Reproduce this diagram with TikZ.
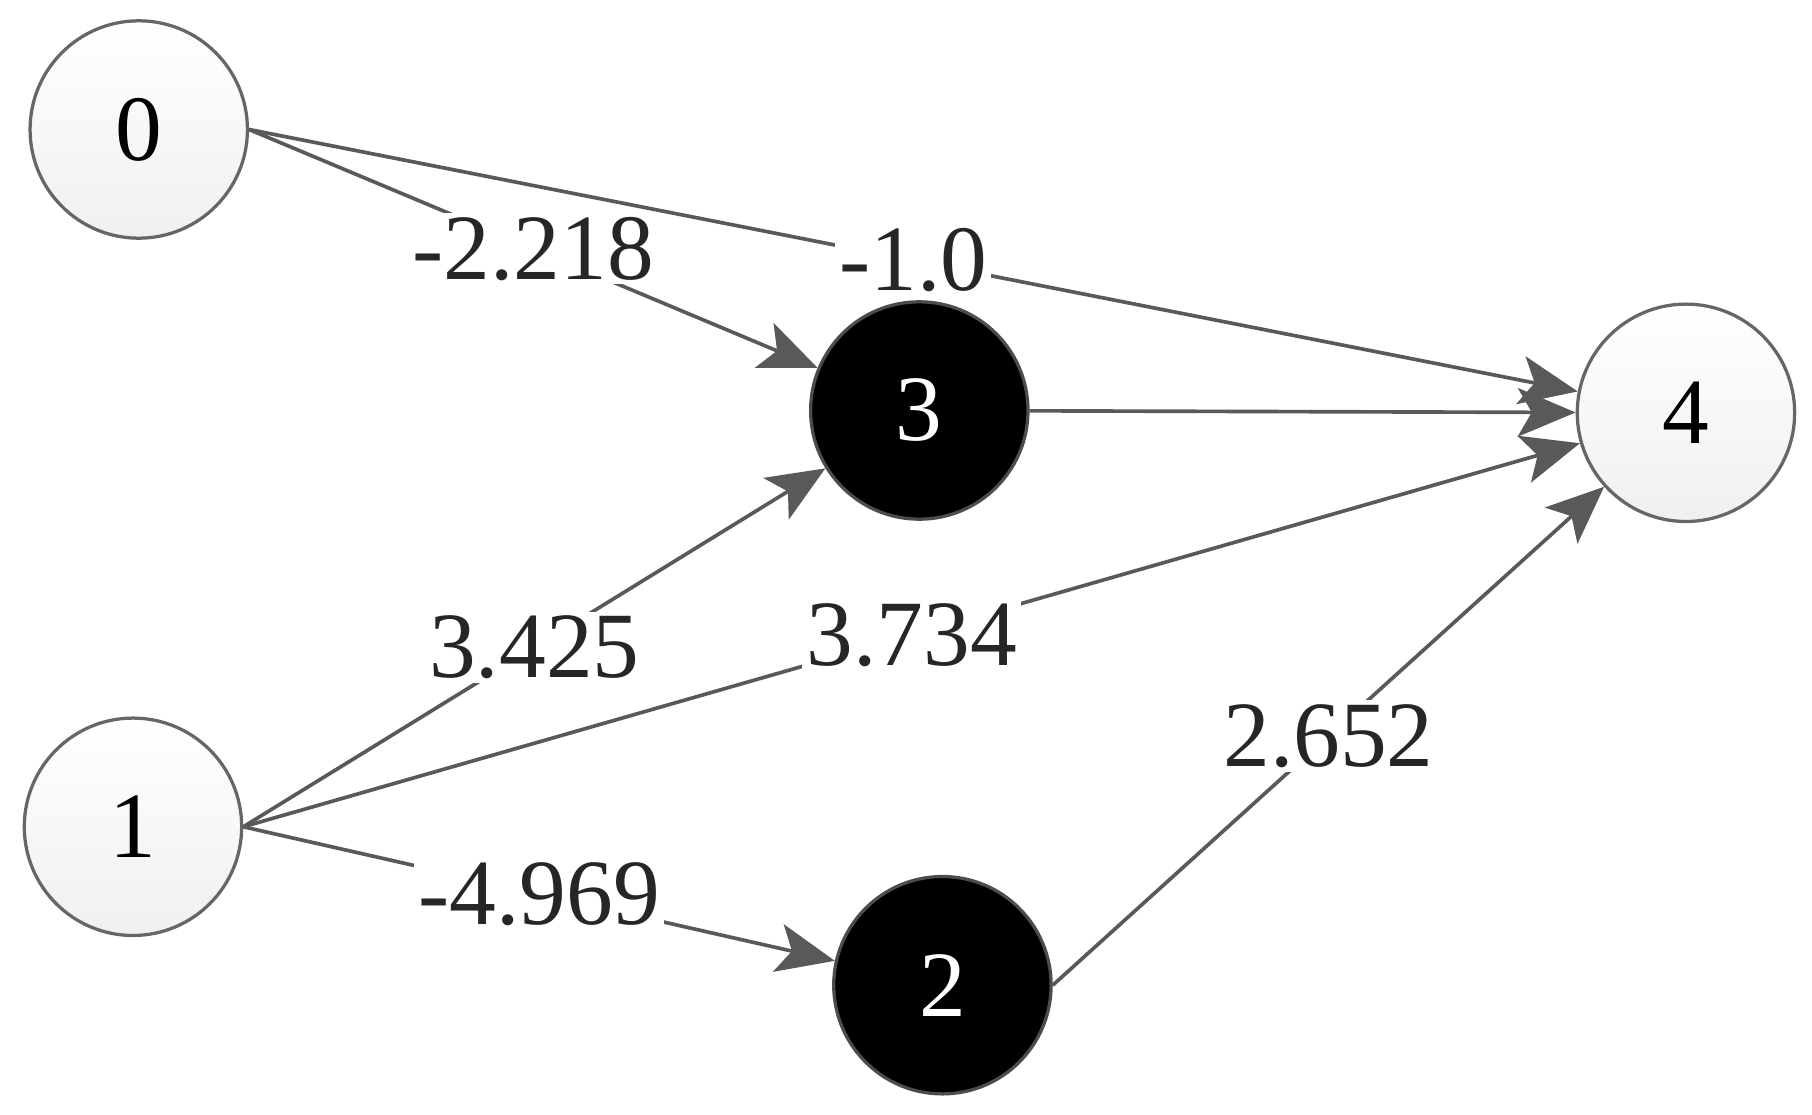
\documentclass[tikz,border=0pt]{standalone}
\usepackage{fontspec}
\setmainfont{Liberation Serif}
\usetikzlibrary{arrows.meta}
\tikzset{
  lightnode/.style={circle,draw=gray!80!black,thick,minimum size=1.88cm,top color=white,bottom color=gray!12,font=\fontsize{23}{23}\selectfont},
  darknode/.style={circle,draw=gray!60!black,thick,minimum size=1.88cm,fill=black,text=white,font=\fontsize{23}{23}\selectfont},
  edge/.style={draw=gray!70!black,line width=0.9pt,-{Stealth[length=0.5cm,width=0.42cm,inset=0.12cm]}},
  weight/.style={fill=white,inner sep=1pt,text=black!85,font=\fontsize{23}{23}\selectfont}
}
\begin{document}
\begin{tikzpicture}
\useasboundingbox (0,0) rectangle (15.67,9.64);
%nodes
\node[lightnode] (n0) at (1.20,8.52) {0};
\node[darknode] (n3) at (7.95,6.09) {3};
\node[lightnode] (n4) at (14.58,6.07) {4};
\node[lightnode] (n1) at (1.15,2.49) {1};
\node[darknode] (n2) at (8.15,1.12) {2};

%edges
\draw[edge] (n0.east) -- (n3) node[weight,midway] {-2.218};
\draw[edge] (n0.east) -- (n4) node[weight,midway] {-1.0};
\draw[edge] (n3) -- (n4);
\draw[edge] (n1.east) -- (n3) node[weight,midway] {3.425};
\draw[edge] (n1.east) -- (n4) node[weight,midway] {3.734};
\draw[edge] (n1.east) -- (n2) node[weight,midway] {-4.969};
\draw[edge] (n2.east) -- (n4) node[weight,midway] {2.652};
\end{tikzpicture}
\end{document}
